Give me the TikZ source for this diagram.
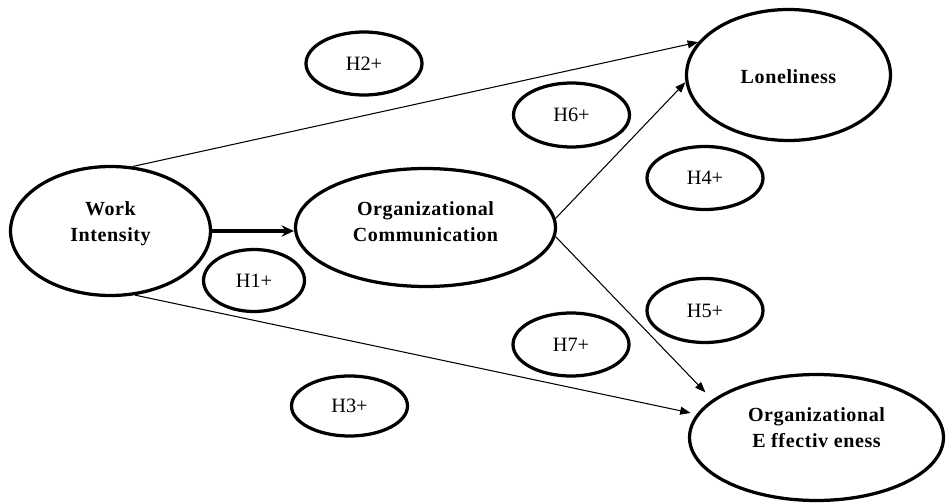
\documentclass[tikz,border=0pt]{standalone}
\usepackage{fontspec}
\setmainfont{Liberation Serif}
\usetikzlibrary{shapes.geometric,arrows.meta}
% centred block of lines, shifted up by #1 without changing its size
\newcommand{\liftlines}[2]{\raisebox{#1}[\height][\depth]{\begin{tabular}{@{}c@{}}#2\end{tabular}}}
\begin{document}
\begin{tikzpicture}[x=0.02cm,y=-0.02cm,
  construct/.style={ellipse,draw,line width=1.85pt,inner sep=0pt,
    font=\fontsize{11.4}{14.8}\selectfont\bfseries\addfontfeatures{LetterSpace=3}},
  hyp/.style={ellipse,draw,line width=1.85pt,inner sep=0pt,
    minimum width=2.32cm,minimum height=1.26cm,
    font=\fontsize{11.6}{14}\selectfont},
  relation/.style={line width=0.6pt,-{Triangle[length=6pt,width=4.5pt]}},
  mainrelation/.style={line width=1.9pt,-{Stealth[length=7pt,width=6.5pt]}}
  ]
\useasboundingbox (0,0) rectangle (947,503);

% latent constructs
\node[construct,minimum width=4.0cm,minimum height=2.58cm] (WI) at (110.5,231)
  {\liftlines{4.4pt}{Work\\Intensity}};
\node[construct,minimum width=5.2cm,minimum height=2.36cm] (OC) at (425.5,227.5)
  {\liftlines{2.4pt}{Organizational\\Communication}};
\node[construct,minimum width=4.08cm,minimum height=2.62cm] (L) at (788.5,75)
  {\liftlines{-1.6pt}{Loneliness}};
\node[construct,minimum width=5.08cm,minimum height=2.52cm] (OE) at (816.5,437.5)
  {\liftlines{4.6pt}{Organizational\\E ffectiv eness}};

% hypothesis labels
\node[hyp] (H1) at (254,280.5) [minimum width=2.02cm,minimum height=1.24cm] {H1+};
\node[hyp] (H2) at (364,63.5) {H2+};
\node[hyp] (H3) at (349.5,406) [minimum height=1.2cm] {H3+};
\node[hyp] (H4) at (705,178) {H4+};
\node[hyp] (H5) at (705,310.5) [minimum height=1.28cm] {H5+};
\node[hyp] (H6) at (571.5,115) [minimum height=1.28cm] {H6+};
\node[hyp] (H7) at (571,344.5) {H7+};

% paths
\draw[mainrelation] (WI.east) -- (WI.east -| OC.west);
\draw[relation] (WI.71) -- (L.160);
\draw[relation,shorten >=0.12cm] (WI.-69) -- (OE.169);
\draw[relation] (OC.4) -- (L.184);
\draw[relation,shorten >=0.2cm] (OC.-4) -- (OE.160);
\end{tikzpicture}
\end{document}
